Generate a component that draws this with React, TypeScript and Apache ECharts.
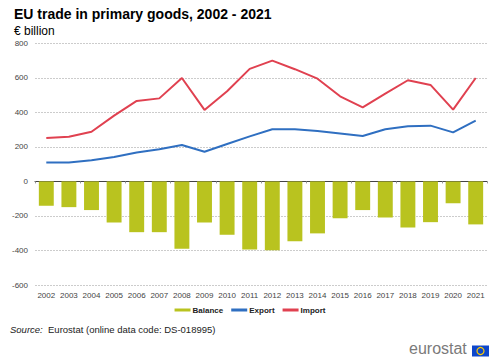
import React, { useEffect, useRef } from "react";
import * as echarts from "echarts";

const years = ["2002","2003","2004","2005","2006","2007","2008","2009","2010","2011","2012","2013","2014","2015","2016","2017","2018","2019","2020","2021"];
const balance = [-141,-149,-166,-238,-294,-294,-390,-238,-309,-394,-398,-346,-301,-214,-166,-209,-267,-236,-127,-249];
const exportVals = [110,110,122,141,168,186,211,172,217,261,302,302,292,278,263,302,319,323,284,352];
const importVals = [251,259,288,381,466,481,599,414,522,652,700,650,595,493,429,508,586,559,416,599];

const FONT = "'Liberation Sans', Arial, sans-serif";

export default function App() {
  const ref = useRef<HTMLDivElement>(null);
  useEffect(() => {
    if (!ref.current) return;
    const chart = echarts.init(ref.current, null, { renderer: "svg" });
    chart.setOption({
      animation: false,
      backgroundColor: "#ffffff",
      textStyle: { fontFamily: FONT },
      title: [
        { text: "EU trade in primary goods, 2002 - 2021", left: 9, top: 2, textStyle: { fontFamily: FONT, fontSize: 14, fontWeight: "bold", color: "#000" } },
        { text: "€ billion", left: 9, top: 20, textStyle: { fontFamily: FONT, fontSize: 12, fontWeight: "normal", color: "#000" } },
      ],
      legend: {
        bottom: 41,
        left: "center",
        itemWidth: 16,
        itemHeight: 3,
        itemGap: 8,
        icon: "rect",
        textStyle: { fontFamily: FONT, fontSize: 8, fontWeight: "bold", color: "#222", padding: [0, 0, 0, -3] },
        data: ["Balance", "Export", "Import"],
      },
      grid: { left: 35, right: 13, top: 43.3, bottom: 75 },
      xAxis: [
        {
          type: "category",
          data: years,
          position: "bottom",
          axisLine: { show: false, onZero: false },
          axisTick: { show: false },
          axisLabel: { fontFamily: FONT, fontSize: 8, color: "#444", margin: 6, interval: 0 },
          splitLine: { show: false },
        },
        {
          type: "category",
          data: years,
          axisLine: { show: true, onZero: true, lineStyle: { color: "#444", width: 1 } },
          axisTick: { show: true, inside: true, length: 2, lineStyle: { color: "#999" } },
          axisLabel: { show: false },
          splitLine: { show: false },
        },
      ],
      yAxis: {
        type: "value",
        min: -600,
        max: 800,
        interval: 200,
        axisLine: { show: false },
        axisTick: { show: false },
        axisLabel: { fontFamily: FONT, fontSize: 8, color: "#444", margin: 7 },
        splitLine: { lineStyle: { color: "#cccccc", type: [2, 1], width: 1 } },
      },
      series: [
        {
          name: "Balance",
          type: "bar",
          data: balance,
          xAxisIndex: 0,
          barCategoryGap: "34%",
          itemStyle: { color: "#b9c31f" },
        },
        {
          name: "Export",
          type: "line",
          data: exportVals,
          xAxisIndex: 0,
          showSymbol: false,
          symbol: "none",
          lineStyle: { color: "#2f6fc1", width: 2 },
          itemStyle: { color: "#2f6fc1" },
        },
        {
          name: "Import",
          type: "line",
          data: importVals,
          xAxisIndex: 0,
          showSymbol: false,
          symbol: "none",
          lineStyle: { color: "#e04150", width: 2 },
          itemStyle: { color: "#e04150" },
        },
      ],
      graphic: [
        {
          type: "text",
          left: 10,
          top: 324,
          style: {
            text: "{i|Source:}  Eurostat (online data code: DS-018995)",
            fontFamily: FONT,
            fontSize: 9.5,
            fill: "#222",
            rich: { i: { fontStyle: "italic", fontFamily: FONT, fontSize: 9.5, fill: "#222" } },
          },
        },
        {
          type: "text",
          left: 409,
          top: 340,
          style: { text: "eurostat", fontFamily: FONT, fontSize: 16, fill: "#7a7a7a" },
        },
        {
          type: "rect",
          shape: { x: 472, y: 345.5, width: 17, height: 11 },
          style: { fill: "#0e47cb" },
        },
        {
          type: "circle",
          shape: { cx: 480.5, cy: 351, r: 3.5 },
          style: { fill: "none", stroke: "#ffcc00", lineWidth: 1.2 },
        },
      ],
    });
    return () => chart.dispose();
  }, []);
  return <div ref={ref} style={{ width: 500, height: 360, position: "absolute", left: 0, top: 0 }} />;
}
